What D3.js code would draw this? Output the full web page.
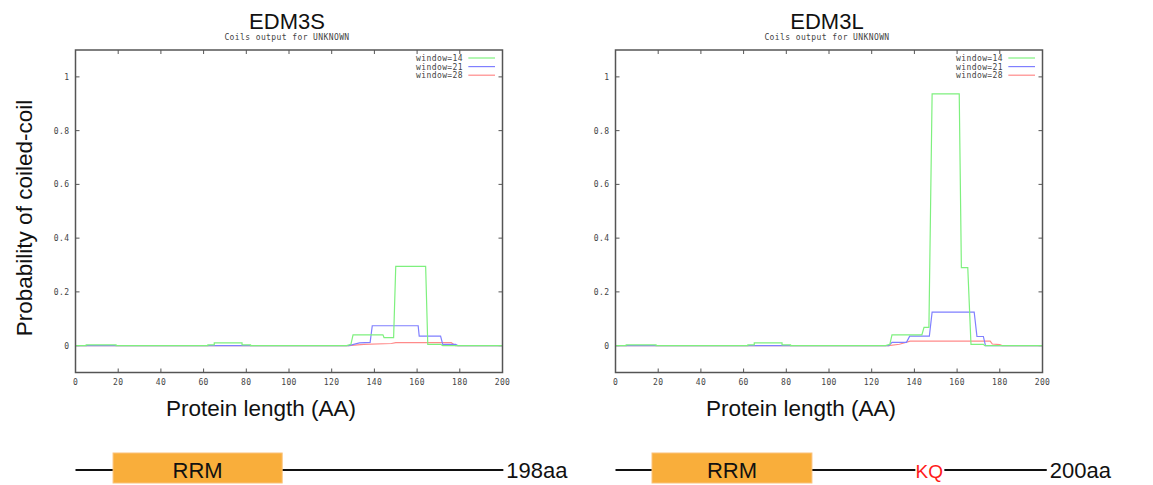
<!DOCTYPE html>
<html>
<head>
<meta charset="utf-8">
<script src="https://cdn.jsdelivr.net/npm/d3@7"></script>
<style>
  body { margin: 0; background: #fff; }
  svg { display: block; }
  .tick-label, .legend-label, .subtitle { font-family: "DejaVu Sans Mono", monospace; font-size: 8px; fill: #444; letter-spacing: 0.4px; }
  .title, .axis-title, .dom-label { font-family: "Liberation Sans", Arial, sans-serif; fill: #111; }
</style>
</head>
<body>
<svg id="chart" width="1153" height="485"></svg>
<script>
// panel names and protein lengths
var panelNames = ["EDM3S", "EDM3L"];
var proteinLabels = ["198aa", "200aa"];
var xTicks = [0, 20, 40, 60, 80, 100, 120, 140, 160, 180, 200];
var yTicks = [0, 0.2, 0.4, 0.6, 0.8, 1];
var seriesNames = ["window=14", "window=21", "window=28"];
var seriesColors = ["#7ef07e", "#7f7fff", "#ff8a8a"];

// step-line data: [residue, probability]
var edm3sWin14 = [[0,0],[5,0],[5,0.003],[19,0.003],[19,0],[62,0],[62,0.003],[65,0.003],[65,0.01],[78,0.01],[78,0.003],[82,0.003],[82,0],[127,0],[129,0.005],[130,0.04],[144,0.04],[144.5,0.03],[149,0.03],[150,0.295],[164,0.295],[165,0.005],[171,0.005],[172,0],[200,0]];
var edm3sWin21 = [[0,0],[128,0],[133,0.01],[138,0.012],[139,0.074],[160.5,0.074],[161,0.035],[171,0.035],[172,0.005],[178,0.005],[179,0],[200,0]];
var edm3sWin28 = [[0,0],[128,0],[135,0.005],[148,0.008],[150,0.011],[176,0.011],[178,0],[200,0]];

var edm3lWin14 = [[0,0],[5,0],[5,0.003],[19,0.003],[19,0],[62,0],[62,0.003],[65,0.003],[65,0.01],[78,0.01],[78,0.003],[82,0.003],[82,0],[126.5,0],[128.5,0.005],[129.5,0.04],[143.5,0.04],[144.5,0.068],[146.8,0.068],[148.3,0.937],[161,0.937],[162,0.29],[165,0.29],[166.5,0.005],[172.3,0.005],[173,0],[200,0]];
var edm3lWin21 = [[0,0],[128,0],[129.5,0.012],[136.3,0.012],[137.8,0.035],[147,0.035],[148.3,0.125],[168,0.125],[169.3,0.034],[172.3,0.034],[173.3,0],[180,0],[200,0]];
var edm3lWin28 = [[0,0],[128,0],[133,0.005],[138,0.017],[175.5,0.017],[176.5,0.006],[180,0.004],[181,0],[200,0]];

var panelSeries = [[edm3sWin14, edm3sWin21, edm3sWin28], [edm3lWin14, edm3lWin21, edm3lWin28]];

// domain diagrams (residue coordinates)
var rrmStart = [17.6, 17.1];
var rrmEnd = [96.8, 92];
var lineEnd = [200.4, 202];
var kqPos = [null, 147];

var svg = d3.select("#chart");
var panelLeft = [75.5, 615.5];
var plotW = 427, plotTop = 50, plotBottom = 372.5;

panelNames.forEach(function (name, p) {
    var g = svg.append("g").attr("transform", "translate(" + panelLeft[p] + ",0)");
    var x = d3.scaleLinear().domain([0, 200]).range([0, plotW]);
    var y = d3.scaleLinear().domain([-0.1, 1.1]).range([plotBottom, plotTop]);

    g.append("text").attr("class", "title")
        .attr("x", plotW / 2 - 2).attr("y", 28.5)
        .attr("text-anchor", "middle").attr("font-size", 22)
        .text(name);
    g.append("text").attr("class", "subtitle")
        .attr("x", plotW / 2 - 2).attr("y", 40)
        .attr("text-anchor", "middle").attr("font-size", 7)
        .text("Coils output for UNKNOWN");

    // ticks (inward, on all sides)
    var tk = g.append("g").attr("stroke", "#555").attr("stroke-width", 1);
    xTicks.forEach(function (t) {
        tk.append("line").attr("x1", x(t)).attr("x2", x(t)).attr("y1", plotBottom).attr("y2", plotBottom - 4);
        tk.append("line").attr("x1", x(t)).attr("x2", x(t)).attr("y1", plotTop).attr("y2", plotTop + 4);
    });
    yTicks.forEach(function (t) {
        tk.append("line").attr("x1", 0).attr("x2", 4).attr("y1", y(t)).attr("y2", y(t));
        tk.append("line").attr("x1", plotW).attr("x2", plotW - 4).attr("y1", y(t)).attr("y2", y(t));
    });

    g.selectAll("text.xt").data(xTicks).enter().append("text")
        .attr("class", "tick-label xt")
        .attr("x", function (d) { return x(d); })
        .attr("y", plotBottom + 12)
        .attr("text-anchor", "middle")
        .text(function (d) { return d; });
    g.selectAll("text.yt").data(yTicks).enter().append("text")
        .attr("class", "tick-label yt")
        .attr("x", -6)
        .attr("y", function (d) { return y(d) + 3; })
        .attr("text-anchor", "end")
        .text(function (d) { return d === 0 ? "0" : d3.format(".1f")(d).replace(/\.0$/, ""); });

    // lines
    var line = d3.line().x(function (d) { return x(d[0]); }).y(function (d) { return y(d[1]); });
    panelSeries[p].slice().reverse().forEach(function (s, i) {
        var idx = 2 - i;
        g.append("path").datum(s)
            .attr("d", line)
            .attr("fill", "none")
            .attr("stroke", seriesColors[idx])
            .attr("stroke-width", 1.2);
    });

    // frame
    g.append("rect").attr("x", 0).attr("y", plotTop).attr("width", plotW).attr("height", plotBottom - plotTop)
        .attr("fill", "none").attr("stroke", "#555").attr("stroke-width", 1.5);

    // legend
    seriesNames.forEach(function (s, i) {
        var ly = 58 + i * 8.6;
        g.append("text").attr("class", "legend-label")
            .attr("x", x(181.5)).attr("y", ly + 3)
            .attr("text-anchor", "end")
            .text(s);
        g.append("line").attr("x1", x(184)).attr("x2", x(196.5))
            .attr("y1", ly).attr("y2", ly)
            .attr("stroke", seriesColors[i]).attr("stroke-width", 1.2);
    });

    g.append("text").attr("class", "axis-title")
        .attr("x", plotW / 2 - 28).attr("y", 416)
        .attr("text-anchor", "middle").attr("font-size", 22.5)
        .text("Protein length (AA)");

    // domain diagram
    var dy = 470;
    var dg = g.append("g");
    if (kqPos[p] === null) {
        dg.append("line").attr("x1", 0).attr("x2", x(lineEnd[p])).attr("y1", dy).attr("y2", dy)
            .attr("stroke", "#111").attr("stroke-width", 2);
    } else {
        dg.append("line").attr("x1", 0).attr("x2", x(kqPos[p]) - 14).attr("y1", dy).attr("y2", dy)
            .attr("stroke", "#111").attr("stroke-width", 2);
        dg.append("line").attr("x1", x(kqPos[p]) + 15).attr("x2", x(lineEnd[p])).attr("y1", dy).attr("y2", dy)
            .attr("stroke", "#111").attr("stroke-width", 2);
        dg.append("text").attr("class", "dom-label")
            .attr("x", x(kqPos[p])).attr("y", dy + 7.5)
            .attr("text-anchor", "middle").attr("font-size", 19)
            .style("fill", "#ff1a1a")
            .text("KQ");
    }
    dg.append("rect").attr("x", x(rrmStart[p])).attr("y", 453)
        .attr("width", x(rrmEnd[p]) - x(rrmStart[p])).attr("height", 30)
        .attr("fill", "#f9ae3b").attr("stroke", "#fbc27a").attr("stroke-width", 1);
    dg.append("text").attr("class", "dom-label")
        .attr("x", (x(rrmStart[p]) + x(rrmEnd[p])) / 2).attr("y", dy + 8)
        .attr("text-anchor", "middle").attr("font-size", 22)
        .text("RRM");
    dg.append("text").attr("class", "dom-label")
        .attr("x", x(lineEnd[p]) + 3).attr("y", dy + 8)
        .attr("font-size", 22)
        .text(proteinLabels[p]);
});

// shared y axis title
svg.append("text").attr("class", "axis-title")
    .attr("transform", "translate(32,218) rotate(-90)")
    .attr("text-anchor", "middle").attr("font-size", 22.5)
    .text("Probability of coiled-coil");
</script>
</body>
</html>
